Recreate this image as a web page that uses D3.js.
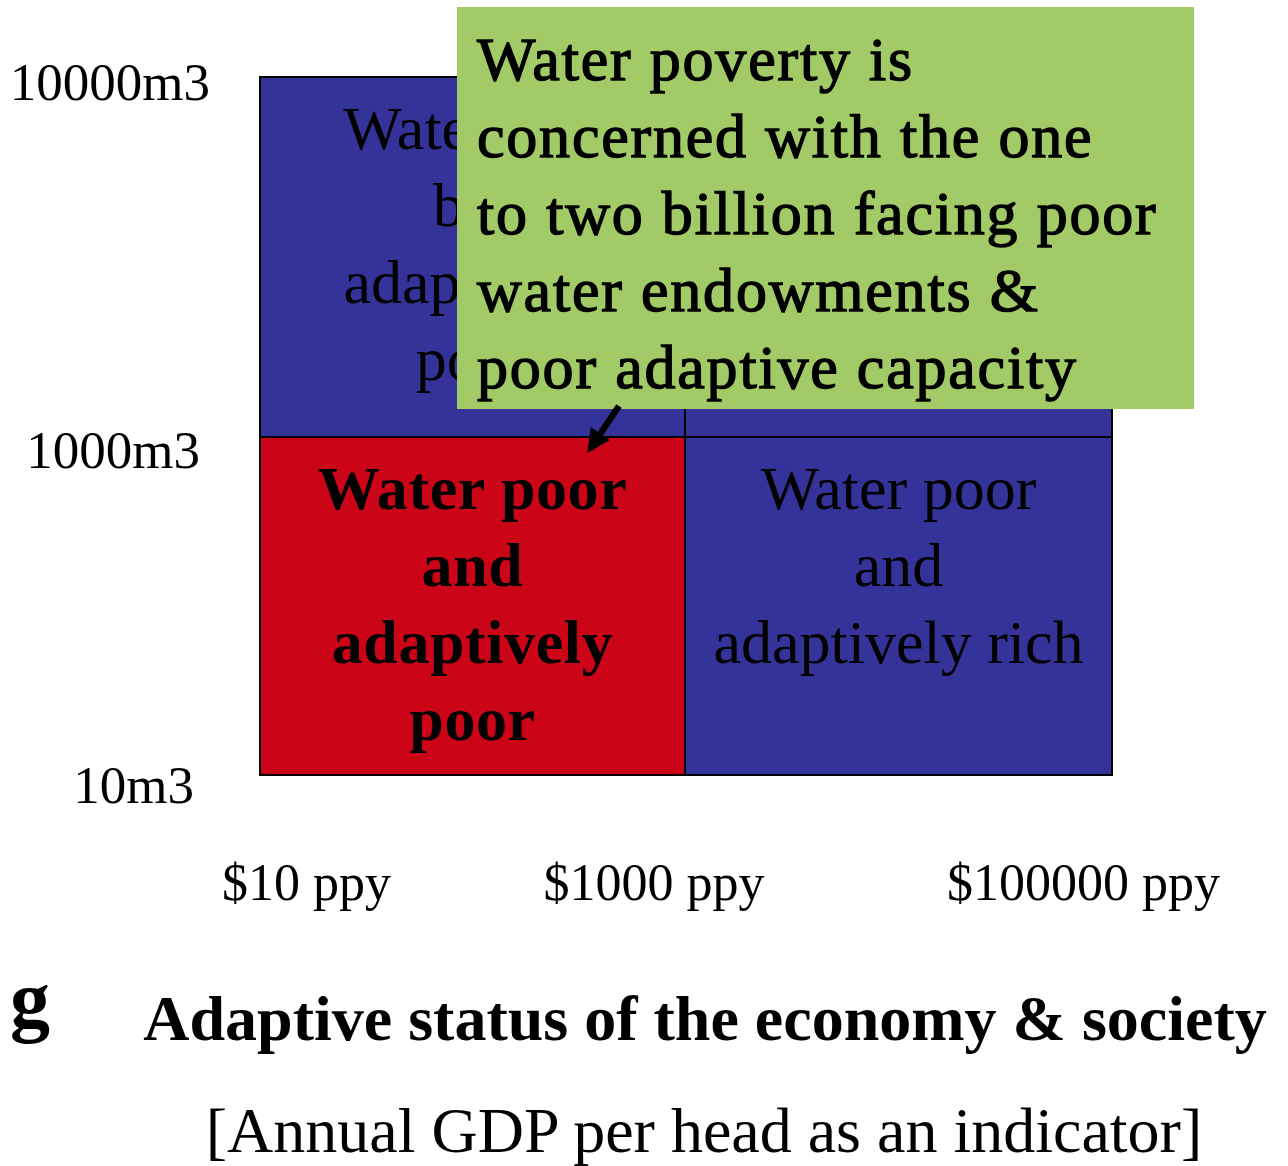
<!DOCTYPE html>
<html><head><meta charset="utf-8">
<script src="https://cdn.jsdelivr.net/npm/d3@7"></script>
<style>
html,body{margin:0;padding:0;background:#fff;}
svg text{font-family:"Liberation Serif","Times New Roman",serif;}
</style></head>
<body><svg id="c" width="1288" height="1166"></svg>
<script>
// ---- data ----
const waterBreaks = [10, 1000, 10000];          // m3 per person per year
const gdpBreaks = [10, 1000, 100000];           // $ per person per year
const yTickLabels = ["10m3", "1000m3", "10000m3"];
const xTickLabels = ["$10 ppy", "$1000 ppy", "$100000 ppy"];
const cellNames = ["rich-poor", "rich-rich", "poor-poor", "poor-rich"];
const cellGdpLo = [10, 1000, 10, 1000];
const cellGdpHi = [1000, 100000, 1000, 100000];
const cellWaterLo = [1000, 1000, 10, 10];
const cellWaterHi = [10000, 10000, 1000, 1000];
const cellLines = [["Water rich", "but", "adaptively", "poor"], [], ["Water poor", "and", "adaptively", "poor"], ["Water poor", "and", "adaptively rich"]];
const cellHighlight = [false, false, true, false];
const calloutLines = ["Water poverty is", "concerned with the one", "to two billion facing poor", "water endowments &", "poor adaptive capacity"];
const xTitle = "Adaptive status of the economy & society";
const xSubtitle = "[Annual GDP per head as an indicator]";

// ---- scales ----
const svg = d3.select("#c");
const x = d3.scaleLog().domain(gdpBreaks).range([260, 685, 1112]);
const y = d3.scaleLog().domain(waterBreaks).range([775, 437, 77]);
const colorBlue = "#333399", colorRed = "#CC0417", colorGreen = "#A2CB67";

const cells = cellNames.map((n, i) => ({n, x0: cellGdpLo[i], x1: cellGdpHi[i], y0: cellWaterLo[i], y1: cellWaterHi[i], lines: cellLines[i], hi: cellHighlight[i]}));

const g = svg.append("g");
g.selectAll("rect.cell").data(cells).join("rect")
  .attr("class", "cell")
  .attr("x", d => x(d.x0)).attr("y", d => y(d.y1))
  .attr("width", d => x(d.x1) - x(d.x0)).attr("height", d => y(d.y0) - y(d.y1))
  .attr("fill", d => d.hi ? colorRed : colorBlue)
  .attr("stroke", "#000").attr("stroke-width", 2);

const lh = 77;
cells.forEach(d => {
  const cx = (x(d.x0) + x(d.x1)) / 2;
  const top = y(d.y1);
  const t = g.append("text").attr("text-anchor", "middle")
    .attr("font-size", 62).attr("font-weight", d.hi ? "bold" : "normal").attr("fill", "#000")
    .attr("letter-spacing", d.hi ? 0.6 : 0);
  d.lines.forEach((ln, k) => {
    t.append("tspan").attr("x", cx).attr("y", top + 72 + k * lh).text(ln);
  });
});

// y tick labels
const yDx = [194, 200, 210], yDy = [28, 31, 23];
g.selectAll("text.ytick").data(waterBreaks).join("text")
  .attr("class", "ytick")
  .attr("x", (d, i) => yDx[i]).attr("y", (d, i) => y(d) + yDy[i])
  .attr("text-anchor", "end").attr("font-size", 53)
  .text((d, i) => yTickLabels[i]);

// x tick labels
const xAnch = ["start", "middle", "end"];
const xOff = [-38, -31, 108];
g.selectAll("text.xtick").data(gdpBreaks).join("text")
  .attr("class", "xtick")
  .attr("x", (d, i) => x(d) + xOff[i]).attr("y", 900)
  .attr("text-anchor", (d, i) => xAnch[i]).attr("font-size", 52)
  .text((d, i) => xTickLabels[i]);

// callout
svg.append("rect").attr("x", 457).attr("y", 7).attr("width", 737).attr("height", 402).attr("fill", colorGreen);
const ct = svg.append("text").attr("font-size", 62).attr("font-weight", "normal").attr("fill", "#000")
  .attr("stroke", "#000").attr("stroke-width", 1.4).attr("letter-spacing", 1.8);
calloutLines.forEach((ln, k) => ct.append("tspan").attr("x", 477).attr("y", 80 + k * 77).text(ln));

// arrow
svg.append("defs").append("marker").attr("id", "ah").attr("viewBox", "0 0 10 10")
  .attr("refX", 8).attr("refY", 5).attr("markerWidth", 3.6).attr("markerHeight", 3.6)
  .attr("orient", "auto").append("path").attr("d", "M0,0 L10,5 L0,10 z").attr("fill", "#000");
svg.append("line").attr("x1", 619).attr("y1", 406).attr("x2", 590).attr("y2", 449)
  .attr("stroke", "#000").attr("stroke-width", 6.5).attr("marker-end", "url(#ah)");

// titles
svg.append("text").attr("x", 10).attr("y", 1027).attr("font-size", 80).attr("font-weight", "bold").text("g");
svg.append("text").attr("x", 705).attr("y", 1040).attr("text-anchor", "middle").attr("font-size", 64).attr("font-weight", "bold").text(xTitle);
svg.append("text").attr("x", 704).attr("y", 1152).attr("text-anchor", "middle").attr("font-size", 64).text(xSubtitle);
</script></body></html>
